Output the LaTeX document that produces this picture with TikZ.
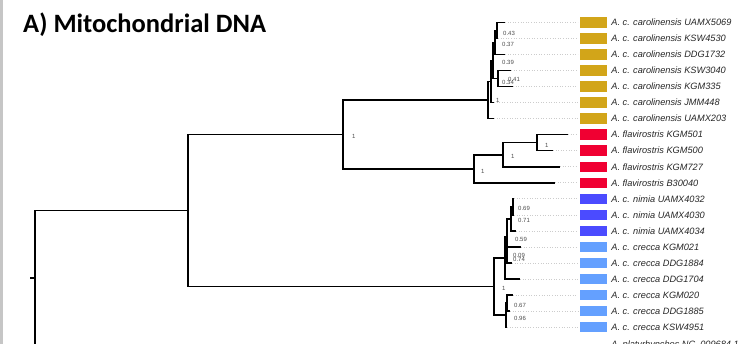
\documentclass[tikz,border=0pt]{standalone}
\usepackage{fontspec}
\setmainfont{Liberation Sans}
\newfontfamily\titlefont{Carlito}
\usetikzlibrary{positioning}
\definecolor{carolcol}{HTML}{D2A519}
\definecolor{flavcol}{HTML}{F00032}
\definecolor{nimiacol}{HTML}{4B4BFF}
\definecolor{creccacol}{HTML}{64A0FF}
\tikzstyle{branch} = [line width=1.6pt, line join=miter]
\tikzstyle{guide} = [gray!40, dotted, line width=0.6pt, shorten >=2pt]
\tikzstyle{clade} = [minimum width=27pt, minimum height=10.5pt, inner sep=0pt]
\tikzstyle{tiplabel} = [inner sep=0pt, text=black!85, font=\fontsize{9.2}{10}\selectfont\itshape]
\tikzstyle{supp} = [inner sep=0pt, anchor=west, text=black!70, font=\fontsize{6}{7}\selectfont]
\tikzstyle{paneltitle} = [inner sep=0pt, anchor=base west, font=\titlefont\fontsize{26.5}{30}\selectfont\bfseries]

\begin{document}
\begin{tikzpicture}[x=1pt, y=-1pt]
	\useasboundingbox (0,0) rectangle (744,344);
	\clip (0,0) rectangle (744,344);
	\fill[gray!45] (0,0) rectangle (3.3,344);
	\node[paneltitle] (title) at (23,33) {A) Mitochondrial DNA};

	% tips
	\coordinate (t0) at (505,22.5);
	\coordinate (t1) at (498,38.5);
	\coordinate (t2) at (505,54.6);
	\coordinate (t3) at (511,70.6);
	\coordinate (t4) at (513,86.6);
	\coordinate (t5) at (494,102.7);
	\coordinate (t6) at (494,118.7);
	\coordinate (t7) at (568,134.7);
	\coordinate (t8) at (553,150.7);
	\coordinate (t9) at (560,166.8);
	\coordinate (t10) at (555,182.8);
	\coordinate (t11) at (514,198.8);
	\coordinate (t12) at (514,214.9);
	\coordinate (t13) at (516,230.9);
	\coordinate (t14) at (521,247.0);
	\coordinate (t15) at (512,263.0);
	\coordinate (t16) at (520,279.0);
	\coordinate (t17) at (513,295.0);
	\coordinate (t18) at (510,311.0);
	\coordinate (t19) at (507,327.1);
	\coordinate (t20) at (560,345.5);

	% boxes and names
	\node[clade, fill=carolcol] (b0) at (593.5,22.5) {};
	\node[clade, fill=carolcol] (b1) at (593.5,38.5) {};
	\node[clade, fill=carolcol] (b2) at (593.5,54.6) {};
	\node[clade, fill=carolcol] (b3) at (593.5,70.6) {};
	\node[clade, fill=carolcol] (b4) at (593.5,86.6) {};
	\node[clade, fill=carolcol] (b5) at (593.5,102.7) {};
	\node[clade, fill=carolcol] (b6) at (593.5,118.7) {};
	\node[clade, fill=flavcol] (b7) at (593.5,134.7) {};
	\node[clade, fill=flavcol] (b8) at (593.5,150.7) {};
	\node[clade, fill=flavcol] (b9) at (593.5,166.8) {};
	\node[clade, fill=flavcol] (b10) at (593.5,182.8) {};
	\node[clade, fill=nimiacol] (b11) at (593.5,198.8) {};
	\node[clade, fill=nimiacol] (b12) at (593.5,214.9) {};
	\node[clade, fill=nimiacol] (b13) at (593.5,230.9) {};
	\node[clade, fill=creccacol] (b14) at (593.5,247.0) {};
	\node[clade, fill=creccacol] (b15) at (593.5,263.0) {};
	\node[clade, fill=creccacol] (b16) at (593.5,279.0) {};
	\node[clade, fill=creccacol] (b17) at (593.5,295.0) {};
	\node[clade, fill=creccacol] (b18) at (593.5,311.0) {};
	\node[clade, fill=creccacol] (b19) at (593.5,327.1) {};
	\node[clade] (b20) at (593.5,345.5) {};

	\node[tiplabel, right=4pt of b0] (l0) {A. c. carolinensis UAMX5069};
	\node[tiplabel, right=4pt of b1] (l1) {A. c. carolinensis KSW4530};
	\node[tiplabel, right=4pt of b2] (l2) {A. c. carolinensis DDG1732};
	\node[tiplabel, right=4pt of b3] (l3) {A. c. carolinensis KSW3040};
	\node[tiplabel, right=4pt of b4] (l4) {A. c. carolinensis KGM335};
	\node[tiplabel, right=4pt of b5] (l5) {A. c. carolinensis JMM448};
	\node[tiplabel, right=4pt of b6] (l6) {A. c. carolinensis UAMX203};
	\node[tiplabel, right=4pt of b7] (l7) {A. flavirostris KGM501};
	\node[tiplabel, right=4pt of b8] (l8) {A. flavirostris KGM500};
	\node[tiplabel, right=4pt of b9] (l9) {A. flavirostris KGM727};
	\node[tiplabel, right=4pt of b10] (l10) {A. flavirostris B30040};
	\node[tiplabel, right=4pt of b11] (l11) {A. c. nimia UAMX4032};
	\node[tiplabel, right=4pt of b12] (l12) {A. c. nimia UAMX4030};
	\node[tiplabel, right=4pt of b13] (l13) {A. c. nimia UAMX4034};
	\node[tiplabel, right=4pt of b14] (l14) {A. c. crecca KGM021};
	\node[tiplabel, right=4pt of b15] (l15) {A. c. crecca DDG1884};
	\node[tiplabel, right=4pt of b16] (l16) {A. c. crecca DDG1704};
	\node[tiplabel, right=4pt of b17] (l17) {A. c. crecca KGM020};
	\node[tiplabel, right=4pt of b18] (l18) {A. c. crecca DDG1885};
	\node[tiplabel, right=4pt of b19] (l19) {A. c. crecca KSW4951};
	\node[tiplabel, right=4pt of b20] (l20) {A. platyrhynchos NC\_009684.1};

	\draw[guide] (t0) -- (b0.west);
	\draw[guide] (t1) -- (b1.west);
	\draw[guide] (t2) -- (b2.west);
	\draw[guide] (t3) -- (b3.west);
	\draw[guide] (t4) -- (b4.west);
	\draw[guide] (t5) -- (b5.west);
	\draw[guide] (t6) -- (b6.west);
	\draw[guide] (t7) -- (b7.west);
	\draw[guide] (t8) -- (b8.west);
	\draw[guide] (t9) -- (b9.west);
	\draw[guide] (t10) -- (b10.west);
	\draw[guide] (t11) -- (b11.west);
	\draw[guide] (t12) -- (b12.west);
	\draw[guide] (t13) -- (b13.west);
	\draw[guide] (t14) -- (b14.west);
	\draw[guide] (t15) -- (b15.west);
	\draw[guide] (t16) -- (b16.west);
	\draw[guide] (t17) -- (b17.west);
	\draw[guide] (t18) -- (b18.west);
	\draw[guide] (t19) -- (b19.west);
	\draw[guide] (t20) -- (b20.west);

	% internal nodes
	\coordinate (root) at (35,278);
	\coordinate (rootstub) at (30,278);
	\coordinate (ig) at (188,210.5);
	\coordinate (cf) at (343,134.5);
	\coordinate (c8) at (488,100.2);
	\coordinate (c7) at (491,81.6);
	\coordinate (c6) at (493,60.6);
	\coordinate (c5) at (498,78.6);
	\coordinate (c4) at (495,42.6);
	\coordinate (c3) at (497,30.5);
	\coordinate (f1) at (474,168.8);
	\coordinate (f2) at (503,154.8);
	\coordinate (f3) at (537,142.7);
	\coordinate (nc) at (494,286.5);
	\coordinate (n6) at (505,258.0);
	\coordinate (n5) at (507,236.9);
	\coordinate (n4) at (507,255.0);
	\coordinate (n2) at (511,218.9);
	\coordinate (n1) at (513,206.9);
	\coordinate (k2) at (506,315.0);
	\coordinate (k1) at (507,303.0);

	\draw[branch] (rootstub) -- (root);
	\draw[branch] (root) |- (ig);
	\draw[branch] (root) |- (t20);
	\draw[branch] (ig) |- (cf);
	\draw[branch] (ig) |- (nc);
	\draw[branch] (cf) |- (c8);
	\draw[branch] (cf) |- (f1);
	\draw[branch] (c8) |- (c7);
	\draw[branch] (c8) |- (t6);
	\draw[branch] (c7) |- (c6);
	\draw[branch] (c7) |- (t5);
	\draw[branch] (c6) |- (c4);
	\draw[branch] (c6) |- (c5);
	\draw[branch] (c5) |- (t3);
	\draw[branch] (c5) |- (t4);
	\draw[branch] (c4) |- (c3);
	\draw[branch] (c4) |- (t2);
	\draw[branch] (c3) |- (t0);
	\draw[branch] (c3) |- (t1);
	\draw[branch] (f1) |- (f2);
	\draw[branch] (f1) |- (t10);
	\draw[branch] (f2) |- (f3);
	\draw[branch] (f2) |- (t9);
	\draw[branch] (f3) |- (t7);
	\draw[branch] (f3) |- (t8);
	\draw[branch] (nc) |- (n6);
	\draw[branch] (nc) |- (k2);
	\draw[branch] (n6) |- (n5);
	\draw[branch] (n6) |- (t16);
	\draw[branch] (n5) |- (n2);
	\draw[branch] (n5) |- (n4);
	\draw[branch] (n4) |- (t14);
	\draw[branch] (n4) |- (t15);
	\draw[branch] (n2) |- (n1);
	\draw[branch] (n2) |- (t13);
	\draw[branch] (n1) |- (t11);
	\draw[branch] (n1) |- (t12);
	\draw[branch] (k2) |- (k1);
	\draw[branch] (k2) |- (t19);
	\draw[branch] (k1) |- (t17);
	\draw[branch] (k1) |- (t18);

	% support values
	\node[supp] (s1) at (352,136) {1};
	\node[supp] (s2) at (496,100.5) {1};
	\node[supp] (s3) at (502,82) {0.34};
	\node[supp] (s4) at (508,79.5) {0.41};
	\node[supp] (s5) at (502,62) {0.39};
	\node[supp] (s6) at (502,44) {0.37};
	\node[supp] (s7) at (503,33) {0.43};
	\node[supp] (s8) at (481,171) {1};
	\node[supp] (s9) at (511,156) {1};
	\node[supp] (s10) at (545,145) {1};
	\node[supp] (s11) at (502,288) {1};
	\node[supp] (s12) at (513,259) {0.74};
	\node[supp] (s13) at (513,255.5) {0.09};
	\node[supp] (s14) at (515,239) {0.59};
	\node[supp] (s15) at (518,220) {0.71};
	\node[supp] (s16) at (518,208) {0.69};
	\node[supp] (s17) at (514,305) {0.67};
	\node[supp] (s18) at (514,318) {0.96};
\end{tikzpicture}
\end{document}
